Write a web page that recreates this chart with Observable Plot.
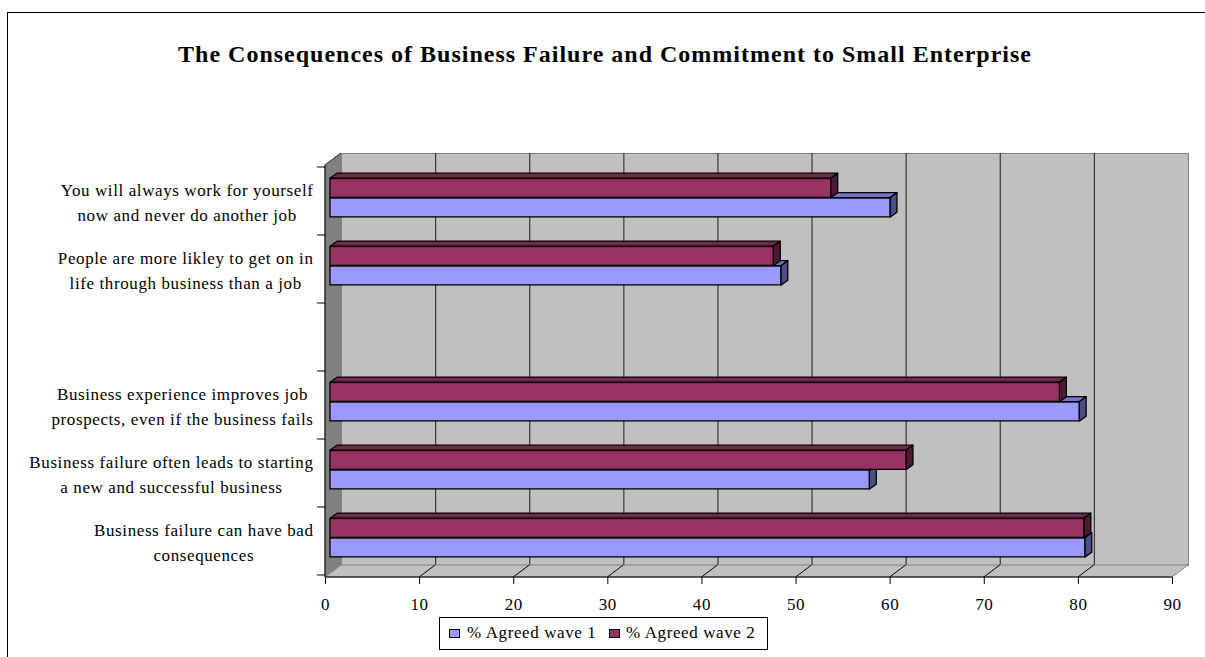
<!DOCTYPE html>
<html>
<head>
<meta charset="utf-8">
<script src="https://cdn.jsdelivr.net/npm/d3@7"></script>
<script src="https://cdn.jsdelivr.net/npm/@observablehq/plot@0.6"></script>
<style>
  html, body { margin: 0; padding: 0; background: #fff; }
  #wrap { position: relative; width: 1205px; height: 657px; overflow: hidden; font-family: "Liberation Serif", serif; color: #000; }
  #border { position: absolute; left: 7px; top: 12px; width: 1400px; height: 800px; border-left: 1px solid #000; border-top: 1px solid #000; }
  #title { position: absolute; left: 0; top: 41px; width: 1210px; text-align: center; font-weight: bold; font-size: 24px; line-height: 26px; letter-spacing: 1px; white-space: nowrap; }
  #chart { position: absolute; left: 0; top: 0; }
  #legend { position: absolute; left: 439px; top: 617px; width: 329px; height: 33px; box-sizing: border-box; border: 1px solid #000; background: #fff; }
  .sw { position: absolute; top: 11px; width: 11px; height: 9px; box-sizing: border-box; border: 1px solid #000; }
  .lt { position: absolute; top: 4px; font-size: 17px; line-height: 22px; letter-spacing: 0.6px; white-space: nowrap; }
</style>
</head>
<body>
<div id="wrap">
  <div id="border"></div>
  <div id="chart"></div>
  <div id="title"></div>
  <div id="legend"></div>
</div>
<script>
// ---- data ----
const categories = [
  "Business failure can have bad\nconsequences",
  "Business failure often leads to starting\na new and successful business",
  "Business experience improves job\nprospects, even if the business fails",
  "",
  "People are more likley to get on in\nlife through business than a job",
  "You will always work for yourself\nnow and never do another job"
];
const wave1 = [80.2, 57.3, 79.6, null, 47.9, 59.5];
const wave2 = [80.1, 61.2, 77.5, null, 47.1, 53.2];
const seriesNames = ["% Agreed wave 1", "% Agreed wave 2"];
const xTicks = [0, 10, 20, 30, 40, 50, 60, 70, 80, 90];
const titleText = "The Consequences of Business Failure and Commitment to Small Enterprise";

// ---- styles ----
const colors = {
  front: ["#9999FF", "#993366"],
  top: ["#7373C8", "#74264F"],
  side: ["#4D4D86", "#4D1933"]
};
const W = 1205, H = 657, ML = 325, MR = 33, MT = 165, MB = 80;
const WALL = {dx: 16, dy: -12};
const BAR = {dx: 5, dy: -3.3, h: 19.5, ddx: 7, ddy: -5};
const bw = (H - MT - MB) / categories.length;

const rows = [];
categories.forEach((c, i) => {
  if (wave1[i] != null) rows.push({cat: c, s: 0, value: wave1[i]});
  if (wave2[i] != null) rows.push({cat: c, s: 1, value: wave2[i]});
});

function bandWidth(y) {
  if (typeof y.bandwidth === "function") return y.bandwidth();
  if (typeof y.bandwidth === "number") return y.bandwidth;
  return bw;
}

// walls, floor, axis lines and category ticks (positions from the plot's scales)
function walls(index, scales, values, dim) {
  const {x, y} = scales;
  const x0 = x(0), x1 = x(xTicks[xTicks.length - 1]);
  const yT = dim.marginTop, yB = dim.height - dim.marginBottom;
  const g = d3.create("svg:g");
  g.append("polygon")
    .attr("points", [[x0, yT], [x0 + WALL.dx, yT + WALL.dy], [x0 + WALL.dx, yB + WALL.dy], [x0, yB]].join(" "))
    .attr("fill", "#808080").attr("stroke", "#808080");
  g.append("line").attr("x1", x0).attr("y1", yT).attr("x2", x0 + WALL.dx).attr("y2", yT + WALL.dy)
    .attr("stroke", "#333");
  g.append("polygon")
    .attr("points", [[x0, yB], [x1, yB], [x1 + WALL.dx, yB + WALL.dy], [x0 + WALL.dx, yB + WALL.dy]].join(" "))
    .attr("fill", "#C0C0C0").attr("stroke", "#808080");
  xTicks.slice(1, -1).forEach(v => {
    g.append("line").attr("x1", x(v)).attr("y1", yB).attr("x2", x(v) + WALL.dx).attr("y2", yB + WALL.dy)
      .attr("stroke", "#000");
  });
  // axis lines
  g.append("line").attr("x1", x0).attr("y1", yB).attr("x2", x1).attr("y2", yB).attr("stroke", "#000");
  g.append("line").attr("x1", x0).attr("y1", yT).attr("x2", x0).attr("y2", yB).attr("stroke", "#000");
  // category ticks
  const b = bandWidth(y);
  const bounds = categories.map(c => y(c)).concat([y(categories[0]) + b]);
  bounds.forEach(p => {
    g.append("line").attr("x1", x0 - 8).attr("y1", p).attr("x2", x0).attr("y2", p).attr("stroke", "#000");
  });
  return g.node();
}

// 3D top and side faces of one series' bars
function barFaces(s) {
  return (index, scales) => {
    const {x, y} = scales;
    const b = bandWidth(y);
    const g = d3.create("svg:g");
    rows.filter(d => d.s === s).forEach(d => {
      const c = y(d.cat) + b / 2 + BAR.dy;
      const top = s === 1 ? c - BAR.h : c;
      const bot = s === 1 ? c : c + BAR.h;
      const xl = x(0) + BAR.dx, xr = x(d.value) + BAR.dx;
      g.append("polygon")
        .attr("points", [[xl, top], [xl + BAR.ddx, top + BAR.ddy], [xr + BAR.ddx, top + BAR.ddy], [xr, top]].join(" "))
        .attr("fill", colors.top[s]).attr("stroke", "#000").attr("stroke-width", 1.3).attr("stroke-linejoin", "round");
      g.append("polygon")
        .attr("points", [[xr, top], [xr + BAR.ddx, top + BAR.ddy], [xr + BAR.ddx, bot + BAR.ddy], [xr, bot]].join(" "))
        .attr("fill", colors.side[s]).attr("stroke", "#000").attr("stroke-width", 1.3).attr("stroke-linejoin", "round");
    });
    return g.node();
  };
}

function frontBars(s) {
  const inTop = s === 1 ? bw / 2 - BAR.h : bw / 2;
  const inBot = s === 1 ? bw / 2 : bw / 2 - BAR.h;
  return Plot.barX(rows.filter(d => d.s === s), {
    x1: 0, x2: "value", y: "cat",
    insetTop: inTop, insetBottom: inBot,
    dx: BAR.dx, dy: BAR.dy,
    fill: colors.front[s], stroke: "#000", strokeWidth: 1.3
  });
}

// category labels: lines centered within a right-aligned block
const canvas = document.createElement("canvas");
const ctx = canvas.getContext("2d");
ctx.font = "17px 'Liberation Serif'";
const LS = 0.6;
function textW(t) { return ctx.measureText(t).width + LS * t.length; }
const labelMarks = categories.filter(c => c !== "").map(c => {
  const w = Math.max(...c.split("\n").map(textW));
  return Plot.text([c], {
    y: d => d, text: d => d, frameAnchor: "left",
    textAnchor: "middle", lineHeight: 1.45, dx: -12 - w / 2, dy: -1,
    fill: "#000", fontSize: 17
  });
});

const chart = Plot.plot({
  width: W, height: H,
  marginLeft: ML, marginRight: MR, marginTop: MT, marginBottom: MB,
  style: {fontFamily: "'Liberation Serif', serif", fontSize: "17px", background: "transparent", color: "#000", letterSpacing: LS + "px", overflow: "visible"},
  x: {domain: [xTicks[0], xTicks[xTicks.length - 1]], ticks: xTicks, tickSize: 7, tickPadding: 13, tickFormat: d => String(d), label: null},
  y: {domain: [...categories].reverse(), padding: 0, axis: null},
  marks: [
    Plot.frame({fill: "#C0C0C0", stroke: "#808080", dx: WALL.dx, dy: WALL.dy}),
    Plot.ruleX(xTicks.slice(1, -1), {x: d => d, dx: WALL.dx, dy: WALL.dy, stroke: "#3a3a3a", strokeWidth: 1.2}),
    walls,
    barFaces(0),
    frontBars(0),
    barFaces(1),
    frontBars(1),
    ...labelMarks
  ]
});
document.getElementById("chart").appendChild(chart);

document.getElementById("title").textContent = titleText;

const legend = document.getElementById("legend");
const legendPos = [{sw: 9, tx: 27}, {sw: 169, tx: 186}];
seriesNames.forEach((n, i) => {
  const sw = document.createElement("div");
  sw.className = "sw"; sw.style.left = legendPos[i].sw + "px"; sw.style.background = colors.front[i];
  legend.appendChild(sw);
  const t = document.createElement("div");
  t.className = "lt"; t.style.left = legendPos[i].tx + "px"; t.textContent = n;
  legend.appendChild(t);
});
</script>
</body>
</html>
